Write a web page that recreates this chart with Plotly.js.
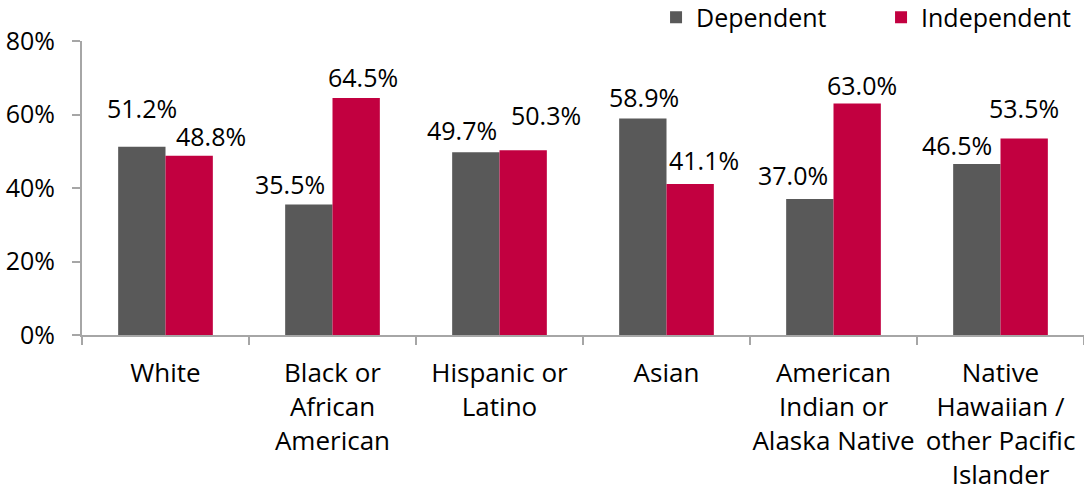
<!DOCTYPE html>
<html>
<head>
<meta charset="utf-8">
<script src="https://cdn.plot.ly/plotly-3.0.1.min.js"></script>
<style>html,body{margin:0;padding:0;background:#fff;}#chart{width:1084px;height:491px;}</style>
</head>
<body>
<div id="chart"></div>
<script>
// ---- data ----
const categories = ["White", "Black or<br>African<br>American", "Hispanic or<br>Latino", "Asian", "American<br>Indian or<br>Alaska Native", "Native<br>Hawaiian /<br>other Pacific<br>Islander"];
const seriesNames = ["Dependent", "Independent"];
const dependent = [51.2, 35.5, 49.7, 58.9, 37.0, 46.5];
const independent = [48.8, 64.5, 50.3, 41.1, 63.0, 53.5];
const yTickVals = [0, 20, 40, 60, 80];
const yTickText = ["0%", "20%", "40%", "60%", "80%"];

// ---- styles ----
const colors = ["#595959", "#C20040"];
// manual label offsets (px) relative to bar top centre, as placed in the original
const labelDx = [[0, -19, -14, 1, -17, -20], [22, 7, 23, 14, 5, 0]];
const labelDy = [[39, 21, 22, 22, 24, 19], [20, 21, 35, 24, 18, 30]];
const halfBar = 23.65;

const series = [dependent, independent];
const traces = series.map((vals, i) => ({
  type: "bar",
  name: seriesNames[i],
  x: categories,
  y: vals,
  marker: {color: colors[i]},
  hoverinfo: "skip"
}));

const annotations = [];
series.forEach((vals, i) => {
  vals.forEach((v, j) => {
    annotations.push({
      x: categories[j], y: v, xref: "x", yref: "y",
      text: v.toFixed(1) + "%",
      showarrow: false,
      xanchor: "center", yanchor: "middle",
      xshift: (i === 0 ? -halfBar : halfBar) + labelDx[i][j],
      yshift: labelDy[i][j],
      font: {size: 25, color: "#000"}
    });
  });
});

const layout = {
  width: 1084, height: 491,
  margin: {l: 82, r: 0, t: 41, b: 156, pad: 0, autoexpand: false},
  paper_bgcolor: "#fff", plot_bgcolor: "#fff",
  font: {family: "Open Sans, sans-serif", size: 25, color: "#000"},
  barmode: "group",
  bargap: 0.433,
  bargroupgap: 0,
  showlegend: true,
  legend: {
    orientation: "h",
    x: 1.022, xanchor: "right",
    y: 1.08, yanchor: "middle",
    font: {size: 25, color: "#000"},
    entrywidth: 180,
    traceorder: "normal"
  },
  xaxis: {
    type: "category",
    showline: true, linecolor: "#A6A6A6", linewidth: 2,
    ticks: "outside", tickson: "boundaries", ticklen: 8, tickcolor: "#A6A6A6", tickwidth: 2,
    showgrid: false, zeroline: false,
    tickangle: 0,
    tickfont: {size: 26, color: "#000"},
    ticklabelstandoff: 14,
    fixedrange: true
  },
  yaxis: {
    range: [0, 80],
    tickvals: yTickVals, ticktext: yTickText,
    showline: true, linecolor: "#A6A6A6", linewidth: 2,
    ticks: "outside", ticklen: 8, tickcolor: "#A6A6A6", tickwidth: 2,
    showgrid: false, zeroline: false,
    ticklabelstandoff: 12,
    fixedrange: true
  },
  annotations: annotations
};

Plotly.newPlot("chart", traces, layout, {displayModeBar: false, staticPlot: true});
</script>
</body>
</html>
